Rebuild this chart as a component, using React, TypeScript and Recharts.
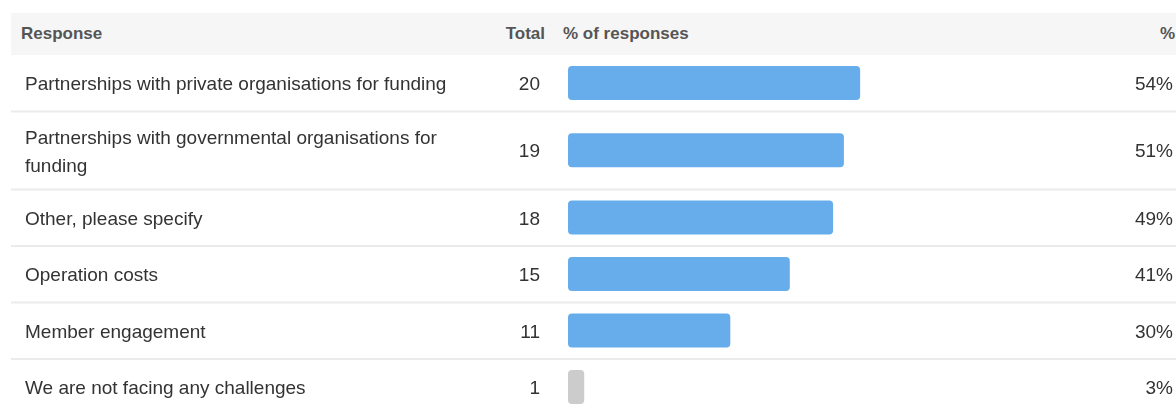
import { BarChart, Bar, XAxis, YAxis, Cell, LabelList, ReferenceLine } from "recharts";

const responseLabels = [
  "Partnerships with private organisations for funding",
  "Partnerships with governmental organisations for funding",
  "Other, please specify",
  "Operation costs",
  "Member engagement",
  "We are not facing any challenges",
];
const totals = [20, 19, 18, 15, 11, 1];
const percents = [54, 51, 49, 41, 30, 3];

const FONT = '"Liberation Sans", Arial, sans-serif';
const TEXT = "#333333";
const BLUE = "#67adeb";
const GREY = "#cccccc";
const ROW_H = 56.5;
const LINE_H = 28;
const MAX_CHARS = 52;

function wrap(label: string) {
  const lines: string[] = [];
  let cur = "";
  for (const w of label.split(" ")) {
    const next = cur ? cur + " " + w : w;
    if (next.length > MAX_CHARS && cur) {
      lines.push(cur);
      cur = w;
    } else cur = next;
  }
  lines.push(cur);
  return lines;
}

// row layout: taller rows for wrapped labels
let top = 0;
const rows = responseLabels.map((label, i) => {
  const lines = wrap(label);
  const h = ROW_H + (lines.length - 1) * 21.5;
  const row = { label, lines, total: totals[i], pct: percents[i], pos: top + h / 2, bottom: top + h };
  top += h;
  return row;
});
const chartH = Math.ceil(top);

const RowTick = (props: any) => {
  const { y, payload } = props;
  const row = rows.find((r) => Math.abs(r.pos - payload.value) < 0.01);
  if (!row) return null;
  const n = row.lines.length;
  return (
    <g>
      {row.lines.map((l, i) => (
        <text key={i} x={17} y={y + 0.5 + (i - (n - 1) / 2) * LINE_H} dominantBaseline="central"
          fontFamily={FONT} fontSize={19} fill={TEXT}>
          {l}
        </text>
      ))}
    </g>
  );
};

const rightText = (xr: number) => (props: any) => {
  const { y, height, value } = props;
  return (
    <text x={xr} y={y + height / 2 + 0.5} textAnchor="end" dominantBaseline="central"
      fontFamily={FONT} fontSize={19} fill={TEXT}>
      {value}
    </text>
  );
};

const Separator = (props: any) => (
  <line x1={3} x2={1168} y1={props.y1} y2={props.y1} stroke="#ebebeb" strokeWidth={2} />
);

const headStyle: React.CSSProperties = {
  position: "absolute",
  top: 0,
  fontWeight: "bold",
  fontSize: 17,
  color: "#555555",
  lineHeight: "42px",
  whiteSpace: "nowrap",
};

export default function App() {
  const data = rows.map((r) => ({ ...r, pctLabel: r.pct + "%" }));
  return (
    <div style={{ position: "fixed", left: 8, top: 8, width: 1168, height: 398, overflow: "hidden", fontFamily: FONT }}>
      <div style={{ position: "absolute", left: 3, top: 5, width: 1165, height: 42, background: "#f6f6f6" }}>
        <span style={{ ...headStyle, left: 10 }}>Response</span>
        <span style={{ ...headStyle, right: 1165 - 534 }}>Total</span>
        <span style={{ ...headStyle, left: 552 }}>% of responses</span>
        <span style={{ ...headStyle, right: 1 }}>%</span>
      </div>
      <div style={{ position: "absolute", left: 0, top: 47 }}>
        <BarChart width={1168} height={chartH} data={data} layout="vertical"
          margin={{ top: 0, right: 67, bottom: 0, left: 0 }}>
          <XAxis type="number" domain={[0, 100]} hide />
          <YAxis type="number" dataKey="pos" domain={[0, chartH]} ticks={rows.map((r) => r.pos)}
            interval={0} width={560} axisLine={false} tickLine={false} tick={<RowTick />} />
          {rows.slice(0, -1).map((r, i) => (
            <ReferenceLine key={i} y={r.bottom} shape={<Separator />} ifOverflow="visible" />
          ))}
          <Bar dataKey="pct" barSize={34} radius={4} isAnimationActive={false}>
            {data.map((_, i) => (
              <Cell key={i} fill={i === data.length - 1 ? GREY : BLUE} />
            ))}
            <LabelList dataKey="total" content={rightText(532)} />
            <LabelList dataKey="pctLabel" content={rightText(1165)} />
          </Bar>
        </BarChart>
      </div>
    </div>
  );
}
